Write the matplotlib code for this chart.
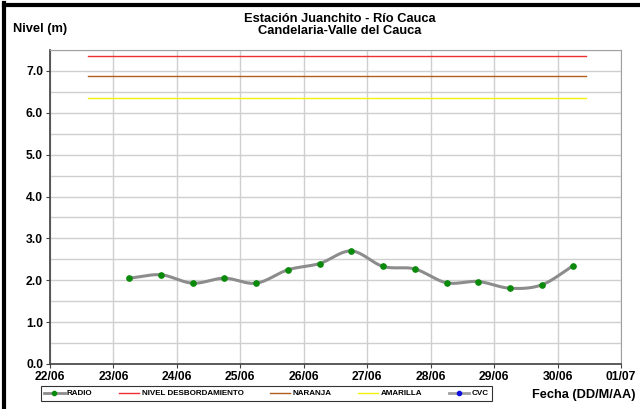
import numpy as np
import pandas as pd
import matplotlib
matplotlib.use("Agg")
import matplotlib.pyplot as plt
import matplotlib.dates as mdates
from matplotlib.lines import Line2D

plt.rcParams['font.family'] = ['Liberation Sans', 'DejaVu Sans']
plt.rcParams['font.weight'] = 'bold'

# ---- data ----
times = pd.to_datetime([
    "2011-06-23 06:00", "2011-06-23 18:00", "2011-06-24 06:00", "2011-06-24 18:00",
    "2011-06-25 06:00", "2011-06-25 18:00", "2011-06-26 06:00", "2011-06-26 18:00",
    "2011-06-27 06:00", "2011-06-27 18:00", "2011-06-28 06:00", "2011-06-28 18:00",
    "2011-06-29 06:00", "2011-06-29 18:00", "2011-06-30 06:00"])
radio = [2.05, 2.13, 1.93, 2.05, 1.93, 2.25, 2.40, 2.70, 2.33, 2.27, 1.94, 1.97, 1.81, 1.89, 2.35]

thr_start = pd.Timestamp("2011-06-22 14:20")
thr_end = pd.Timestamp("2011-06-30 10:40")
nivel_desb = 7.36
naranja = 6.87
amarilla = 6.36

xlim = (pd.Timestamp("2011-06-22"), pd.Timestamp("2011-07-01"))
ylim = (0, 7.5)

title = "Estación Juanchito - Río Cauca\nCandelaria-Valle del Cauca"
ylabel = "Nivel (m)"
xlabel = "Fecha (DD/M/AA)"
legend_labels = ["RADIO", "NIVEL DESBORDAMIENTO", "NARANJA", "AMARILLA", "CVC"]

# ---- figure ----
fig = plt.figure(figsize=(6.4, 4.09), dpi=100)
ax = fig.add_axes([50/640, 1-364/409, (621-50)/640, (364-50)/409])

xn = mdates.date2num(times)
yv = np.array(radio)

# Catmull-Rom smoothing for drawing the smoothed line (like Excel's smooth line)
def catmull(x, y, n=20):
    px = np.concatenate([[2*x[0]-x[1]], x, [2*x[-1]-x[-2]]])
    py = np.concatenate([[2*y[0]-y[1]], y, [2*y[-1]-y[-2]]])
    ox, oy = [], []
    t = np.linspace(0, 1, n, endpoint=False)
    for i in range(1, len(px)-2):
        for arr, out in ((px, ox), (py, oy)):
            p0, p1, p2, p3 = arr[i-1], arr[i], arr[i+1], arr[i+2]
            out.extend(0.5*((2*p1) + (-p0+p2)*t + (2*p0-5*p1+4*p2-p3)*t**2 + (-p0+3*p1-3*p2+p3)*t**3))
    ox.append(x[-1]); oy.append(y[-1])
    return np.array(ox), np.array(oy)

sx, sy = catmull(xn, yv)

ax.plot([thr_start, thr_end], [nivel_desb, nivel_desb], color='#F03030', lw=1.0, zorder=3)
ax.plot([thr_start, thr_end], [naranja, naranja], color='#B0601C', lw=1.0, zorder=3)
ax.plot([thr_start, thr_end], [amarilla, amarilla], color='#F2F20A', lw=1.0, zorder=3)
ax.plot(mdates.num2date(sx), sy, color='#8C8C8C', lw=2.2, zorder=4, solid_capstyle='round')
ax.plot(times, radio, ls='none', marker='o', ms=3.8, color='#0A8A0A', zorder=5)

ax.set_xlim(xlim)
ax.set_ylim(ylim)
ax.xaxis.set_major_locator(mdates.DayLocator())
ax.xaxis.set_major_formatter(mdates.DateFormatter('%d/%m'))
ax.set_yticks(np.arange(0, 7.01, 1.0))
ax.set_yticks(np.arange(0.5, 7.6, 1.0), minor=True)
ax.yaxis.set_major_formatter(matplotlib.ticker.FormatStrFormatter('%.1f'))
ax.grid(True, which='major', color='#CFCFCF', lw=1.0)
ax.grid(True, which='minor', axis='y', color='#CFCFCF', lw=1.0)
ax.tick_params(axis='both', which='major', labelsize=8.7, length=3, color='#404040', pad=2)
ax.tick_params(axis='y', which='minor', length=0)
for lab in ax.get_xticklabels() + ax.get_yticklabels():
    lab.set_fontweight('bold')
ax.spines['left'].set_color('#404040')
ax.spines['bottom'].set_color('#404040')
ax.spines['left'].set_linewidth(1.2)
ax.spines['bottom'].set_linewidth(1.2)
ax.spines['top'].set_color('#A0A0A0')
ax.spines['right'].set_color('#A0A0A0')
ax.set_axisbelow(True)

fig.text(340/640, 1-25/409, title, ha='center', va='center', fontsize=9.3, fontweight='bold', linespacing=1.0)
fig.text(13/640, 1-29/409, ylabel, ha='left', va='center', fontsize=9.3, fontweight='bold')
fig.text(636/640, 1-395/409, xlabel, ha='right', va='center', fontsize=9.2, fontweight='bold')

handles = [
    Line2D([], [], color='#8C8C8C', lw=2, marker='o', ms=3, mfc='#0A8A0A', mec='#0A8A0A'),
    Line2D([], [], color='#F03030', lw=1),
    Line2D([], [], color='#B0601C', lw=1),
    Line2D([], [], color='#F2F20A', lw=1),
    Line2D([], [], color='#A0A0A0', lw=2, marker='o', ms=3, mfc='#1010E0', mec='#1010E0'),
]
leg = fig.legend(handles, legend_labels, loc='center', ncol=5,
                 bbox_to_anchor=((43+490)/2/640, 1-393.5/409),
                 prop={'size': 5.8, 'weight': 'bold'}, frameon=True, fancybox=False,
                 edgecolor='black', handlelength=2.5, handletextpad=0.3, columnspacing=3.3,
                 borderpad=0.45)
leg.get_frame().set_linewidth(0.8)

# black border fragments (top and left)
fig.add_artist(Line2D([4/640, 4/640], [0, 1-3/409], color='black', lw=3, transform=fig.transFigure))
fig.add_artist(Line2D([4/640, 1], [1-4.5/409, 1-4.5/409], color='black', lw=3, transform=fig.transFigure))

fig.savefig('out.png', dpi=100)
